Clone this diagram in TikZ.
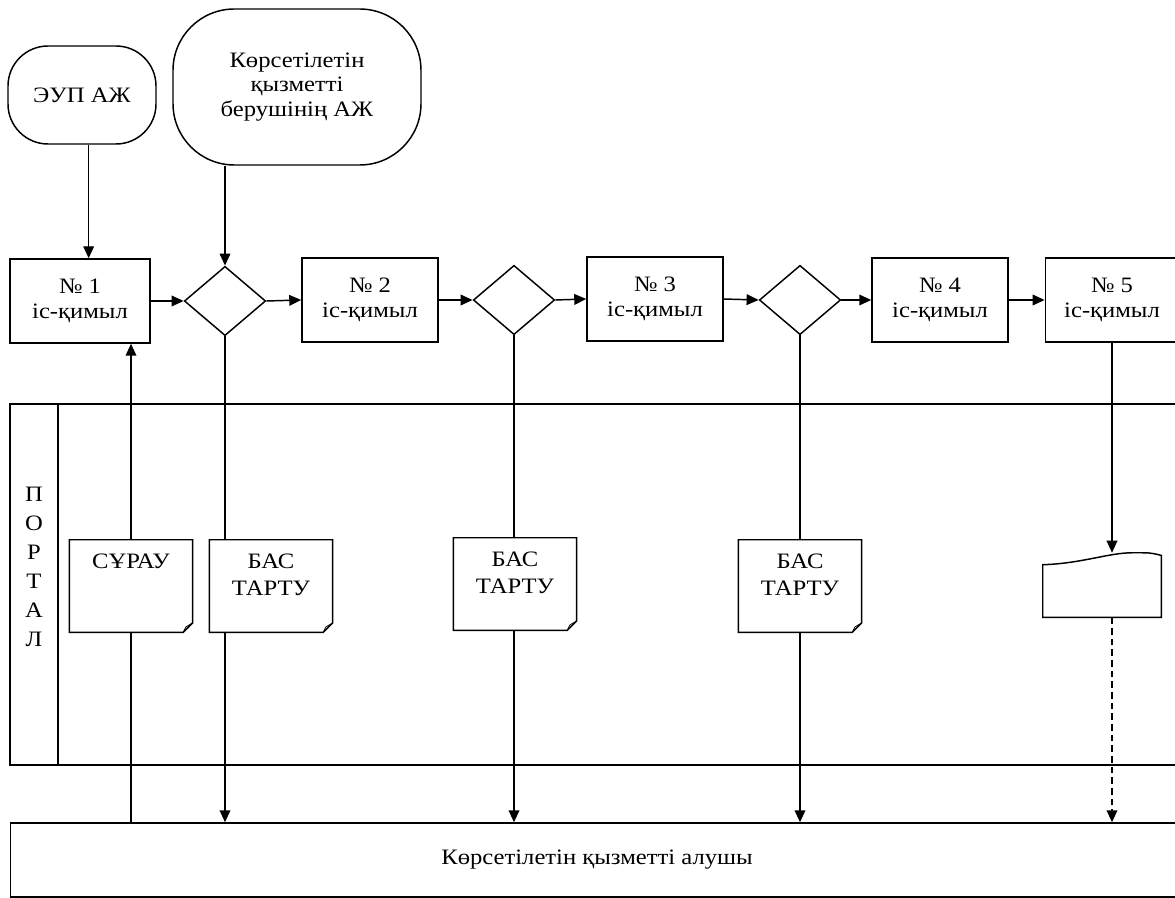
\documentclass[tikz,border=0pt]{standalone}
\usepackage{fontspec}
\setmainfont{Liberation Serif}[FakeStretch=1.12]
\usetikzlibrary{shapes.geometric,arrows.meta,backgrounds}

\begin{document}
\begin{tikzpicture}[x=0.75pt,y=-0.75pt,
  every node/.style={font=\fontsize{16.5}{18.5}\selectfont},
  line/.style={line width=1.1pt},
  arr/.style={line width=1.1pt,-{Triangle[length=9pt,width=8pt]}},
  actbox/.style={draw,line width=1.1pt,fill=white,align=center,minimum width=#1,minimum height=63pt,inner sep=0pt},
  gate/.style={diamond,draw,line width=1.1pt,fill=white,minimum width=61pt,minimum height=52pt,inner sep=0pt},
  system/.style={draw,line width=1.1pt,fill=white,align=center,rounded corners=#1},
  paper/.style={fill=white,minimum width=92pt,minimum height=69pt,inner sep=0pt}]
\useasboundingbox (0,0) rectangle (1175,898);
\clip (0,0) rectangle (1175,898);

\node[system=30pt,minimum width=111pt,minimum height=73.5pt] (eup) at (82,95) {ЭУП АЖ};
\node[system=46pt,minimum width=186pt,minimum height=117pt] (prov) at (297,87) {Көрсетілетін\\қызметті\\берушінің АЖ};

\node[actbox=105pt] (a1) at (80,301) {№ 1\\іс-қимыл};
\node[gate] (d1) at (225,301) {};
\node[actbox=102pt] (a2) at (370,300) {№ 2\\іс-қимыл};
\node[gate] (d2) at (514,300) {};
\node[actbox=102pt] (a3) at (655,299) {№ 3\\іс-қимыл};
\node[gate] (d3) at (800,300) {};
\node[actbox=102pt] (a4) at (940,300) {№ 4\\іс-қимыл};
\node[actbox=100pt] (a5) at (1112,300) {№ 5\\іс-қимыл};

\draw[line] (10,404) rectangle (1190,765);
\draw[line] (58,404) -- (58,765);
\node[align=center,font=\fontsize{16.5}{21.75}\selectfont] (portal) at (34,567) {П\\О\\Р\\Т\\А\\Л};

\node[draw,line width=1.1pt,fill=white,minimum width=880pt,minimum height=55.5pt] (rcv) at (597,860) {Көрсетілетін қызметті алушы};

\node[paper,label={[anchor=north,yshift=-7pt,align=center,font=\fontsize{16.5}{20}\selectfont]north:СҰРАУ}] (rq) at (131,586) {};
\node[paper,label={[anchor=north,yshift=-7pt,align=center,font=\fontsize{16.5}{20}\selectfont]north:БАС\\ТАРТУ}] (rj1) at (271,586) {};
\node[paper,label={[anchor=north,yshift=-7pt,align=center,font=\fontsize{16.5}{20}\selectfont]north:БАС\\ТАРТУ}] (rj2) at (515,584) {};
\node[paper,label={[anchor=north,yshift=-7pt,align=center,font=\fontsize{16.5}{20}\selectfont]north:БАС\\ТАРТУ}] (rj3) at (800,586) {};
\foreach \d in {rq,rj1,rj2,rj3}{
  \draw[line] (\d.south west) -- (\d.north west) -- (\d.north east) -- ([yshift=7pt]\d.south east) -- ([xshift=-7pt]\d.south east) -- cycle;
  \draw[line width=0.6pt] ([yshift=7pt]\d.south east) -- ([xshift=-5pt,yshift=4pt]\d.south east) -- ([xshift=-7pt]\d.south east);
}

\node[minimum width=88.5pt,minimum height=48pt,inner sep=0pt] (res) at (1102,585) {};
\draw[line,fill=white] (res.south west) -- ([yshift=-9pt]res.north west) .. controls ([xshift=30pt,yshift=-8pt]res.north west) and ([xshift=-40pt]res.north east) .. ([xshift=-21pt]res.north east) .. controls ([xshift=-8pt]res.north east) .. ([yshift=-2pt]res.north east) -- (res.south east) -- cycle;

\begin{pgfonlayer}{background}
\draw[arr] ([xshift=5pt]eup.south) -- ([xshift=5pt]eup.south |- a1.north);
\draw[arr] (prov.south -| d1.north) -- (d1.north);
\draw[arr] (a1.east) -- (d1.west);
\draw[arr] (d1.east) -- (a2.west);
\draw[arr] (a2.east) -- (d2.west);
\draw[arr] (d2.east) -- (a3.west);
\draw[arr] (a3.east) -- (d3.west);
\draw[arr] (d3.east) -- (a4.west);
\draw[arr] (a4.east) -- (a5.west);
\draw[arr] (rcv.north -| rq.north) -- (a1.south -| rq.north);
\draw[arr] (d1.south) -- (rcv.north -| d1.south);
\draw[arr] (d2.south) -- (rcv.north -| d2.south);
\draw[arr] (d3.south) -- (rcv.north -| d3.south);
\draw[arr] (a5.south) -- (res.north -| a5.south);
\draw[arr,dash pattern=on 5pt off 3pt] (res.south -| a5.south) -- (rcv.north -| a5.south);
\end{pgfonlayer}
\end{tikzpicture}
\end{document}
